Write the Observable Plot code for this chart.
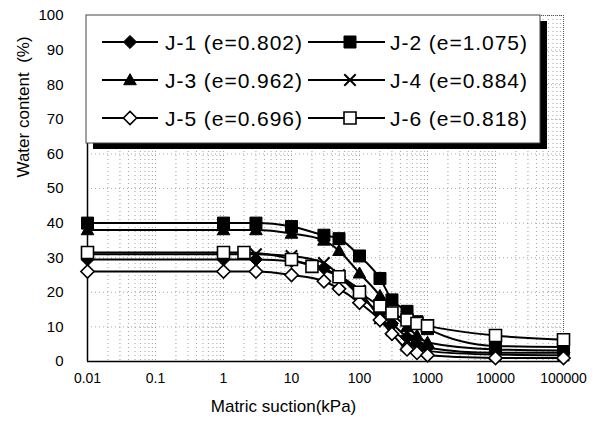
<!DOCTYPE html>
<html><head><meta charset="utf-8">
<script src="https://cdn.jsdelivr.net/npm/d3@7"></script>
<script src="https://cdn.jsdelivr.net/npm/@observablehq/plot@0.6"></script>
<style>
body{margin:0;background:#fff;}
#wrap{position:relative;width:597px;height:424px;font-family:"Liberation Sans",Arial,sans-serif;}
#wrap svg{position:absolute;left:0;top:0;}
</style></head><body><div id="wrap"></div>
<script>
// ---- data ----
const suction   = [0.01, 1, 3, 10, 30, 50, 100, 200, 300, 500, 700, 1000, 10000, 100000];
const suctionJ6 = [0.01, 1, 2, 10, 20, 50, 100, 200, 300, 500, 700, 1000, 10000, 100000];
const J1 = [29.5, 29.5, 29.5, 29, 27, 24.5, 19, 14, 11, 7, 5, 4, 2.5, 2.5];
const J2 = [40, 40, 40, 39, 36.5, 35.5, 30.5, 24, 17.8, 14.5, 11.5, 9.5, 4.5, 4.2];
const J3 = [38, 38, 38, 37, 35, 32, 25.5, 19, 14, 10, 7.5, 5.5, 3.5, 3.2];
const J4 = [31, 31, 31, 30.5, 28.5, 25, 20.5, 12.5, 9, 6, 4, 3, 2, 1.8];
const J5 = [26, 26, 26, 25, 23.2, 21, 17, 12, 8, 3.5, 2.5, 1.8, 1, 1];
const J6 = [31.5, 31.5, 31.5, 29.5, 27.5, 24.5, 20, 16, 14, 12, 11, 10.3, 7.5, 6.3];
const seriesNames = ["J-1 (e=0.802)", "J-2 (e=1.075)", "J-3 (e=0.962)", "J-4 (e=0.884)", "J-5 (e=0.696)", "J-6 (e=0.818)"];
const xTicks = [0.01, 0.1, 1, 10, 100, 1000, 10000, 100000];
const xTickLabels = ["0.01", "0.1", "1", "10", "100", "1000", "10000", "100000"];
const yTicks = [0, 10, 20, 30, 40, 50, 60, 70, 80, 90, 100];
const xTitle = "Matric suction(kPa)";
const yTitle = "Water content  (%)";

// ---- symbols (Excel-like) ----
const symDiamond = {draw(c, size){const r = Math.sqrt(size/Math.PI)*1.1; c.moveTo(0,-r); c.lineTo(r,0); c.lineTo(0,r); c.lineTo(-r,0); c.closePath();}};
const symSquare = {draw(c, size){const r = Math.sqrt(size/Math.PI)*1.0; c.rect(-r,-r,2*r,2*r);}};
const symTriangle = {draw(c, size){const r = Math.sqrt(size/Math.PI)*1.05; c.moveTo(0,-r); c.lineTo(r,r*0.75); c.lineTo(-r,r*0.75); c.closePath();}};
const symTimes = {draw(c, size){const r = Math.sqrt(size/Math.PI)*0.95; c.moveTo(-r,-r); c.lineTo(r,r); c.moveTo(r,-r); c.lineTo(-r,r);}};

const series = [
  {name: seriesNames[0], xs: suction,   ys: J1, symbol: symDiamond,  fill: "black", stroke: "black", sw: 1},
  {name: seriesNames[1], xs: suction,   ys: J2, symbol: symSquare,   fill: "black", stroke: "black", sw: 1},
  {name: seriesNames[2], xs: suction,   ys: J3, symbol: symTriangle, fill: "black", stroke: "black", sw: 1},
  {name: seriesNames[3], xs: suction,   ys: J4, symbol: symTimes,    fill: "none",  stroke: "black", sw: 2},
  {name: seriesNames[4], xs: suction,   ys: J5, symbol: symDiamond,  fill: "white", stroke: "black", sw: 1.6},
  {name: seriesNames[5], xs: suctionJ6, ys: J6, symbol: symSquare,   fill: "white", stroke: "black", sw: 1.6}
];

const gridX = [];
for (let e = -2; e < 5; e++) for (let k = 1; k < 10; k++) gridX.push(+(k * Math.pow(10, e)).toPrecision(3));
const gridY = yTicks.filter(d => d > 0 && d < 100);

const marks = [
  Plot.ruleX(gridX, {stroke: "#777", strokeOpacity: 0.7, strokeDasharray: "1,3"}),
  Plot.ruleY(gridY, {stroke: "#777", strokeOpacity: 0.6, strokeDasharray: "1,3"}),
  Plot.ruleY([100], {stroke: "#555", strokeDasharray: "1,1"}),
  Plot.ruleX([100000], {stroke: "#555", strokeDasharray: "1,1"}),
  Plot.ruleX([0.01], {stroke: "black", strokeWidth: 1.5}),
  Plot.ruleY([0], {stroke: "black", strokeWidth: 1.5}),
  Plot.axisX({ticks: xTicks, tickSize: 0, tickPadding: 12, fontSize: 14, tickFormat: (d, i) => xTickLabels[xTicks.indexOf(d)], label: null}),
  Plot.axisY({ticks: yTicks, tickSize: 0, tickPadding: 24, fontSize: 15, label: null}),
  Plot.text([xTitle], {frameAnchor: "bottom", dy: 50, dx: -42, fontSize: 17}),
  Plot.text([yTitle], {frameAnchor: "left", dx: -64, dy: -11, rotate: -90, fontSize: 17})
];
for (const s of series) {
  const rows = s.xs.map((x, i) => ({x, y: s.ys[i]}));
  marks.push(Plot.line(rows, {x: "x", y: "y", stroke: "black", strokeWidth: 2, curve: "monotone-x"}));
  marks.push(Plot.dot(rows, {x: "x", y: "y", r: 6, symbol: s.symbol, fill: s.fill, stroke: s.stroke, strokeWidth: s.sw}));
}

const chart = Plot.plot({
  width: 597, height: 424,
  marginLeft: 87, marginRight: 34, marginTop: 15, marginBottom: 63,
  style: {fontFamily: "'Liberation Sans', Arial, sans-serif", color: "black", background: "white"},
  x: {type: "log", domain: [0.01, 100000]},
  y: {domain: [0, 100]},
  marks
});
const wrap = document.getElementById("wrap");
wrap.appendChild(chart);

// ---- legend overlay ----
const lg = d3.select(wrap).append("svg").attr("width", 597).attr("height", 424)
  .style("font-family", "'Liberation Sans', Arial, sans-serif");
const bx = 86, by = 15, bw = 454, bh = 128;
lg.append("rect").attr("x", bx + 7).attr("y", by + 6).attr("width", bw).attr("height", bh).attr("fill", "black");
lg.append("rect").attr("x", bx).attr("y", by).attr("width", bw).attr("height", bh).attr("fill", "white").attr("stroke", "#444").attr("stroke-width", 1);
const cols = [{l0: 102, l1: 158, m: 130, t: 165}, {l0: 308, l1: 385, m: 350, t: 390}];
const rowsY = [42, 80, 118];
series.forEach((s, i) => {
  const c = cols[i % 2], y = rowsY[Math.floor(i / 2)];
  lg.append("line").attr("x1", c.l0).attr("x2", c.l1).attr("y1", y).attr("y2", y).attr("stroke", "black").attr("stroke-width", 2);
  lg.append("path").attr("d", d3.symbol().type(s.symbol).size(36 * Math.PI)())
    .attr("transform", `translate(${c.m},${y})`).attr("fill", s.fill).attr("stroke", s.stroke).attr("stroke-width", s.sw);
  lg.append("text").attr("x", c.t).attr("y", y).attr("dy", "0.36em").attr("font-size", 21)
    .attr("textLength", 137).attr("lengthAdjust", "spacing").text(s.name);
});
</script></body></html>
